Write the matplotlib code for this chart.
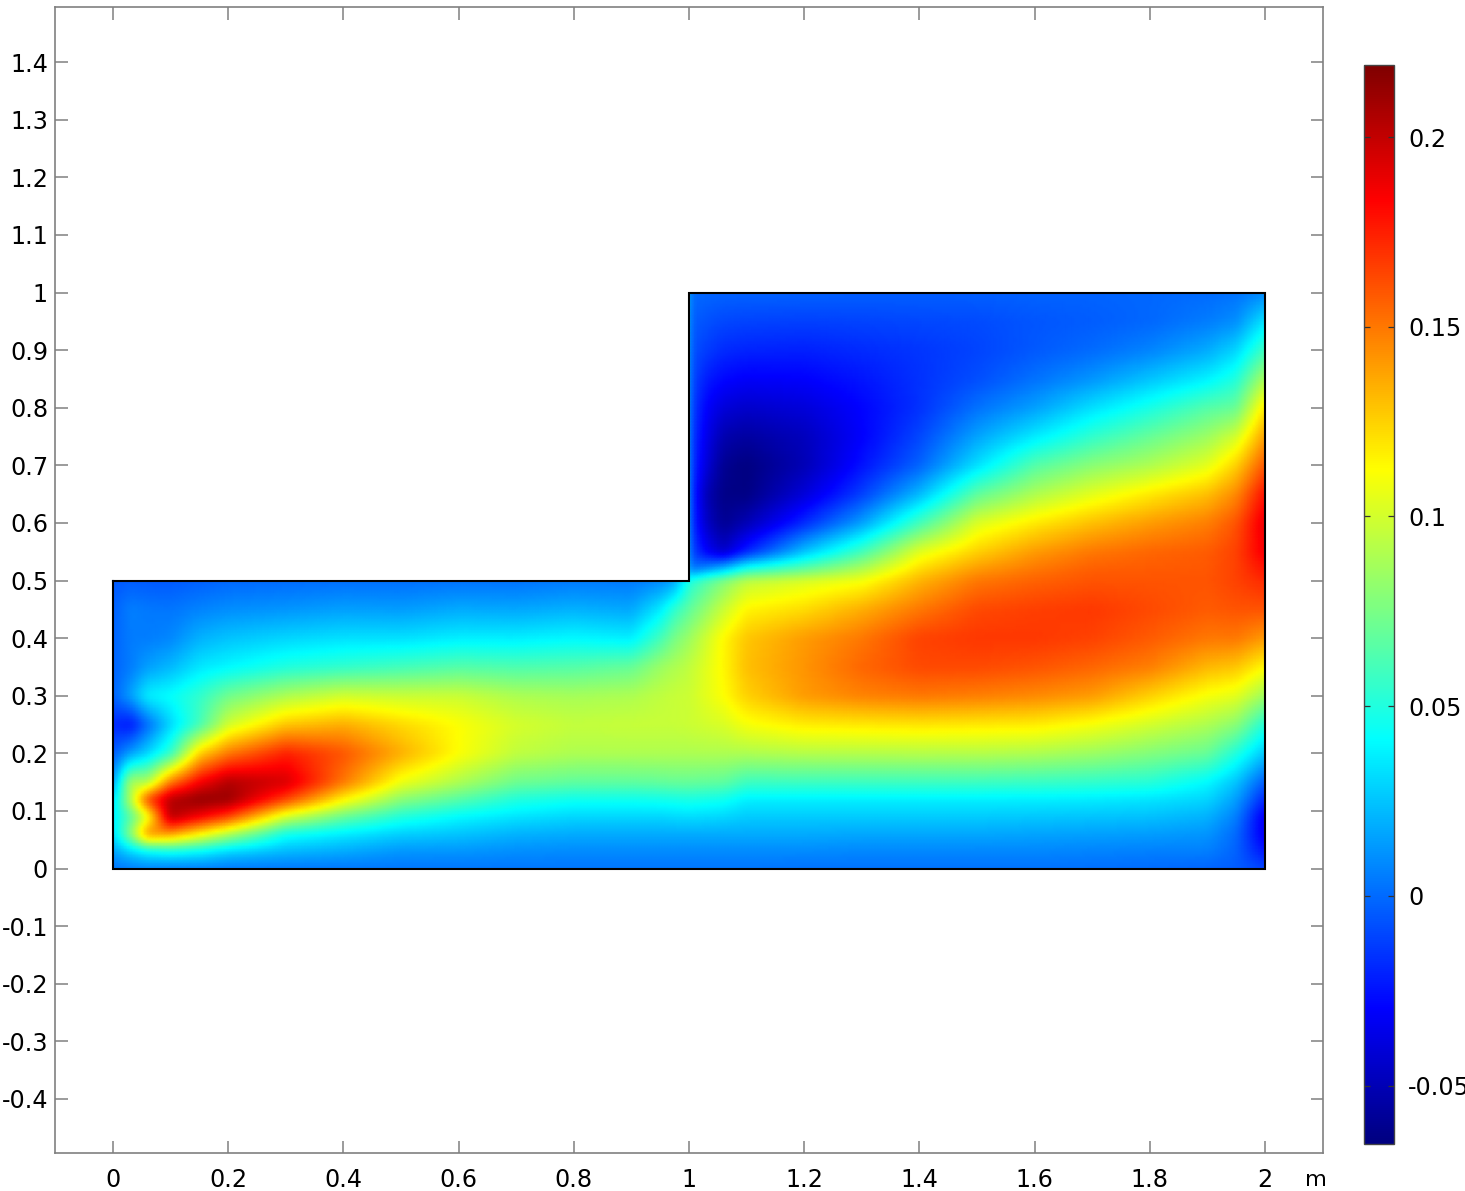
import matplotlib
matplotlib.use("Agg")
import numpy as np
import matplotlib.pyplot as plt
from matplotlib.colors import Normalize, LinearSegmentedColormap
from matplotlib.cm import ScalarMappable

W, H = 1465, 1191
vmin, vmax = -0.0654, 0.219
xticks = [0, 0.2, 0.4, 0.6, 0.8, 1, 1.2, 1.4, 1.6, 1.8, 2]
xtick_labels = ['0', '0.2', '0.4', '0.6', '0.8', '1', '1.2', '1.4', '1.6', '1.8', '2']
yticks = [-0.4, -0.3, -0.2, -0.1, 0, 0.1, 0.2, 0.3, 0.4, 0.5, 0.6, 0.7, 0.8, 0.9, 1, 1.1, 1.2, 1.3, 1.4]
ytick_labels = ['-0.4', '-0.3', '-0.2', '-0.1', '0', '0.1', '0.2', '0.3', '0.4', '0.5', '0.6', '0.7',
                '0.8', '0.9', '1', '1.1', '1.2', '1.3', '1.4']
cticks = [-0.05, 0, 0.05, 0.1, 0.15, 0.2]
ctick_labels = ['-0.05', '0', '0.05', '0.1', '0.15', '0.2']
domain_x = [0, 1, 1, 2, 2, 0, 0]
domain_y = [0.5, 0.5, 1, 1, 0, 0, 0.5]

# lower block: each line is one x column, values at y_low
y_low = [0, .03, .06, .09, .12, .15, .2, .25, .3, .35, .4, .45, .5]
x_low = [0, .03, .06, .1, .15, .2, .3, .4, .5, .6, .7, .8, .9, .95, .975, 1, 1.06, 1.1, 1.2, 1.3, 1.4, 1.5, 1.6, 1.7, 1.8, 1.9, 1.95, 2]
u_low = [
    [.002, .015, .03, .035, .03, .012, -.005, -.018, -.003, -.002, -.002, -.003, -.005],
    [.004, .03, .08, .065, .09, .09, .015, -.025, .015, .005, .005, .006, -.004],
    [.006, .04, .145, .105, .165, .09, .03, .0, .038, .015, .005, .004, -.005],
    [.004, .045, .14, .205, .205, .15, .055, .03, .043, .022, .008, .003, -.005],
    [.004, .04, .115, .185, .215, .185, .125, .06, .055, .035, .02, .007, -.003],
    [.003, .03, .09, .165, .212, .205, .15, .1, .073, .04, .025, .01, -.001],
    [.003, .022, .045, .1, .165, .195, .175, .128, .09, .05, .03, .012, 0],
    [.003, .018, .036, .07, .115, .15, .16, .135, .1, .055, .033, .015, .001],
    [.003, .012, .028, .05, .08, .108, .135, .123, .098, .06, .033, .014, .001],
    [.003, .012, .025, .04, .065, .09, .112, .112, .098, .065, .037, .018, .002],
    [.003, .01, .02, .034, .05, .072, .095, .101, .09, .063, .037, .017, .002],
    [.003, .009, .018, .03, .045, .068, .09, .096, .088, .065, .04, .02, .004],
    [.003, .009, .018, .03, .045, .068, .09, .097, .09, .07, .037, .017, .004],
    [.003, .009, .018, .03, .046, .069, .09, .097, .095, .085, .06, .036, .008],
    [.003, .009, .018, .031, .047, .07, .09, .097, .097, .09, .075, .055, .015],
    [.003, .009, .018, .032, .048, .07, .09, .098, .098, .095, .085, .068, .05],
    [.003, .009, .018, .03, .045, .068, .09, .102, .112, .114, .114, .098, .078],
    [.003, .009, .018, .027, .037, .058, .09, .11, .125, .13, .128, .115, .095],
    [.002, .009, .018, .027, .037, .058, .092, .117, .14, .142, .14, .122, .103],
    [.002, .008, .017, .027, .037, .058, .092, .118, .147, .155, .15, .135, .11],
    [.002, .008, .017, .027, .037, .058, .092, .119, .15, .163, .165, .15, .133],
    [.002, .008, .017, .027, .037, .058, .092, .118, .148, .163, .168, .163, .15],
    [.002, .008, .016, .026, .037, .057, .09, .117, .145, .16, .168, .166, .156],
    [.001, .007, .015, .025, .036, .055, .085, .11, .14, .155, .165, .168, .16],
    [.0, .006, .014, .024, .034, .052, .078, .10, .125, .148, .158, .163, .16],
    [-.002, .006, .012, .02, .03, .04, .07, .09, .11, .132, .15, .158, .16],
    [-.004, -.002, 0, .006, .015, .025, .05, .08, .105, .128, .15, .16, .165],
    [-.01, -.025, -.035, -.035, -.02, -.005, .025, .05, .085, .113, .14, .16, .172],
]

# upper block: each line is one x column, values at y_up
y_up = [.5, .52, .55, .6, .65, .7, .75, .8, .85, .9, .95, 1]
x_up = [1, 1.03, 1.06, 1.1, 1.2, 1.3, 1.4, 1.5, 1.6, 1.7, 1.8, 1.9, 1.95, 2]
u_up = [
    [.05, .0, -.005, -.008, -.008, -.008, -.008, -.007, -.006, -.005, -.003, 0],
    [.07, .01, -.03, -.045, -.05, -.04, -.035, -.03, -.022, -.013, -.007, -.001],
    [.078, .025, -.045, -.06, -.063, -.06, -.052, -.04, -.028, -.018, -.01, -.002],
    [.095, .05, -.02, -.05, -.064, -.065, -.056, -.044, -.031, -.02, -.011, -.002],
    [.103, .068, .025, -.018, -.04, -.05, -.048, -.04, -.03, -.021, -.012, -.002],
    [.11, .09, .06, .015, -.012, -.025, -.03, -.029, -.024, -.018, -.011, -.003],
    [.133, .122, .105, .06, .022, -.002, -.01, -.016, -.016, -.015, -.01, -.003],
    [.15, .14, .125, .103, .068, .033, .016, .002, -.008, -.011, -.009, -.003],
    [.156, .15, .14, .118, .09, .065, .036, .015, .002, -.005, -.006, -.002],
    [.16, .157, .15, .13, .105, .08, .055, .033, .012, 0, -.004, -.002],
    [.16, .158, .155, .14, .118, .09, .07, .048, .025, .007, -.001, -.001],
    [.16, .159, .158, .148, .13, .105, .085, .065, .038, .018, .005, 0],
    [.165, .165, .165, .16, .145, .125, .1, .07, .05, .03, .01, .002],
    [.172, .178, .187, .19, .18, .16, .14, .12, .09, .06, .035, .008],
]

field_cmap = LinearSegmentedColormap.from_list('rainbow_jet', [
    (0.0, (0, 0, 0.5)), (0.125, (0, 0, 1)), (0.375, (0, 1, 1)),
    (0.625, (1, 1, 0)), (0.875, (1, 0, 0)), (1.0, (0.5, 0, 0))], N=512)


def bilinear(xs, ys, table, fx, fy):
    by_col = np.array([np.interp(fy, ys, col) for col in np.array(table, dtype=float)])
    return np.array([np.interp(fx, xs, by_col[:, j]) for j in range(len(fy))])


def render_field(step=0.005, radius=1, passes=3):
    """Resample both tables on one fine grid for display, with a light box blur."""
    fx = np.linspace(0, 2, int(round(2 / step)) + 1)
    fy = np.linspace(0, 1, int(round(1 / step)) + 1)
    split = int(round(0.5 / step))
    lower = bilinear(x_low, y_low, u_low, fx, fy[:split + 1])
    upper = bilinear(x_up, y_up, u_up, np.clip(fx, 1, 2), fy[split:])
    upper[:, fx < 1] = lower[-1, fx < 1]
    fine = np.vstack([lower, upper[1:]])
    kernel = np.ones(2 * radius + 1) / (2 * radius + 1)
    for _ in range(passes):
        pad = np.pad(fine, ((radius, radius), (0, 0)), mode='edge')
        fine = np.array([np.convolve(pad[:, j], kernel, mode='valid') for j in range(pad.shape[1])]).T
        pad = np.pad(fine, ((0, 0), (radius, radius)), mode='edge')
        fine = np.array([np.convolve(pad[i], kernel, mode='valid') for i in range(pad.shape[0])])
    return fx, fy, fine, split


fig = plt.figure(figsize=(W / 100, H / 100), dpi=100, facecolor='white')
plt.rcParams['font.family'] = 'DejaVu Sans'
FS = 17.2
GRAY = '#808080'


def px_axes(l, t, r, b):
    return fig.add_axes([l / W, 1 - b / H, (r - l) / W, (b - t) / H])


ax = px_axes(55, 7, 1323, 1153)
norm = Normalize(vmin, vmax)
fx, fy, fine, split = render_field()
right = fx >= 1
ax.pcolormesh(fx, fy[:split + 1], fine[:split + 1], cmap=field_cmap, norm=norm, shading='gouraud')
ax.pcolormesh(fx[right], fy[split:], fine[split:][:, right], cmap=field_cmap, norm=norm, shading='gouraud')
ax.plot(domain_x, domain_y, color='black', lw=1.5, solid_joinstyle='miter', zorder=5)
ax.set_xlim((55 - 113) / 576, (1323 - 113) / 576)
ax.set_ylim((868.5 - 1153) / 576, (868.5 - 7) / 576)
ax.set_xticks(xticks, xtick_labels)
ax.set_yticks(yticks, ytick_labels)
ax.tick_params(axis='both', direction='in', length=9, width=1.1, color=GRAY,
               top=True, right=True, labelsize=FS)
ax.tick_params(axis='x', pad=10.5)
ax.tick_params(axis='y', pad=5)
for s in ax.spines.values():
    s.set_color(GRAY)
    s.set_linewidth(1.2)

cax = px_axes(1364, 65, 1394, 1144)
cb = fig.colorbar(ScalarMappable(norm=norm, cmap=field_cmap), cax=cax)
cb.set_ticks(cticks, labels=ctick_labels)
cax.tick_params(axis='y', direction='in', length=4, width=0.9, color='#333333',
                left=True, right=True, labelsize=FS, pad=10)
cb.outline.set_edgecolor('#444444')
cb.outline.set_linewidth(1.0)

fig.text(1316 / W, 1 - 1180 / H, 'm', ha='center', va='center', fontsize=FS - 1)
fig.savefig('out.png', dpi=100, facecolor='white')
